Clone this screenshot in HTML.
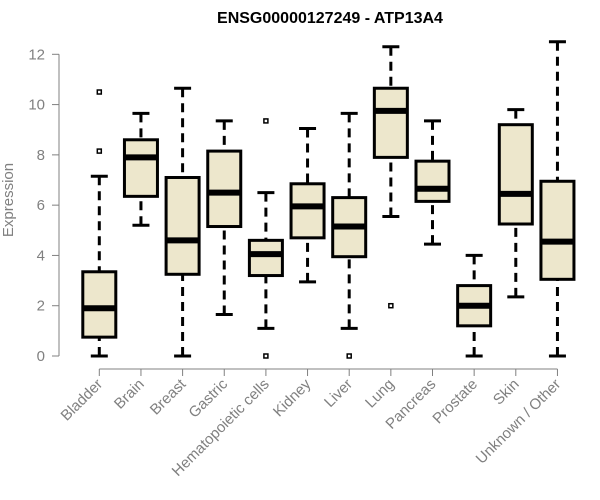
<!DOCTYPE html>
<html><head><meta charset="utf-8"><style>
html,body{margin:0;padding:0;background:#fff;}
svg{display:block;font-family:"Liberation Sans",Arial,sans-serif;}
</style></head><body>
<svg id="chart" width="600" height="500" xmlns="http://www.w3.org/2000/svg">
<text x="330" y="23" text-anchor="middle" font-weight="bold" font-size="16" fill="#000">ENSG00000127249 - ATP13A4</text>
<text transform="translate(13,200) rotate(-90)" text-anchor="middle" font-size="15" fill="#808080">Expression</text>
<g id="yaxis"></g>
<g id="xaxis"></g>
<g id="boxes"></g>
</svg>
<script>
const categories=["Bladder","Brain","Breast","Gastric","Hematopoietic cells","Kidney","Liver","Lung","Pancreas","Prostate","Skin","Unknown / Other"];
const whiskerLow=[0,5.2,0,1.65,1.1,2.95,1.1,5.55,4.45,0,2.35,0];
const q1=[0.75,6.35,3.25,5.15,3.2,4.7,3.95,7.9,6.15,1.2,5.25,3.05];
const medians=[1.9,7.9,4.6,6.5,4.05,5.95,5.15,9.75,6.65,2.0,6.45,4.55];
const q3=[3.35,8.6,7.1,8.15,4.6,6.85,6.3,10.65,7.75,2.8,9.2,6.95];
const whiskerHigh=[7.15,9.65,10.65,9.35,6.5,9.05,9.65,12.3,9.35,4.0,9.8,12.5];
const outliers=[[8.15,10.5],[],[],[],[9.35,0],[],[0],[2.0],[],[],[],[]];
const yTicks=[0,2,4,6,8,10,12];

const NS="http://www.w3.org/2000/svg";
const y=v=>356-v*(356-54.3)/12;
const x=i=>99.3+i*41.65;
function mk(tag,attrs,parent){const e=document.createElementNS(NS,tag);for(const k in attrs)e.setAttribute(k,attrs[k]);parent.appendChild(e);return e;}
const ya=document.getElementById('yaxis'),xa=document.getElementById('xaxis'),bx=document.getElementById('boxes');
mk('line',{x1:59,x2:59,y1:y(0),y2:y(12),stroke:'#808080','stroke-width':1},ya);
yTicks.forEach(t=>{
  const l=mk('line',{x1:52,x2:59,y1:y(t),y2:y(t),stroke:'#808080'},ya);
  
  
  const tx=mk('text',{x:45,y:y(t)+5,'text-anchor':'end','font-size':15,fill:'#808080'},ya);
  tx.textContent=t;
  
  
});
mk('line',{x1:x(0),x2:x(categories.length-1),y1:369,y2:369,stroke:'#808080'},xa);
categories.forEach((c,i)=>{
  const l=mk('line',{x1:x(i),x2:x(i),y1:369,y2:376,stroke:'#808080'},xa);
  
  
  const tx=mk('text',{transform:`translate(${x(i)+4},${385}) rotate(-45)`,'text-anchor':'end','font-size':15,fill:'#808080'},xa);
  tx.textContent=c;
  
  
});
const hw=16.5;
categories.forEach((c,i)=>{
  const g=mk('g',{},bx);
  
  
  const cx=x(i);
  mk('line',{x1:cx,x2:cx,y1:y(whiskerLow[i]),y2:y(q1[i]),stroke:'#000','stroke-width':3,'stroke-dasharray':'9,6'},g);
  mk('line',{x1:cx,x2:cx,y1:y(whiskerHigh[i]),y2:y(q3[i]),stroke:'#000','stroke-width':3,'stroke-dasharray':'9,6'},g);
  mk('line',{x1:cx-8.5,x2:cx+8.5,y1:y(whiskerLow[i]),y2:y(whiskerLow[i]),stroke:'#000','stroke-width':3},g);
  mk('line',{x1:cx-8.5,x2:cx+8.5,y1:y(whiskerHigh[i]),y2:y(whiskerHigh[i]),stroke:'#000','stroke-width':3},g);
  mk('rect',{x:cx-hw,y:y(q3[i]),width:hw*2,height:y(q1[i])-y(q3[i]),fill:'#ede7cc',stroke:'#000','stroke-width':3},g);
  mk('line',{x1:cx-hw,x2:cx+hw,y1:y(medians[i]),y2:y(medians[i]),stroke:'#000','stroke-width':6},g);
  outliers[i].forEach(o=>{
    const r=mk('rect',{x:cx-2,y:y(o)-2,width:4,height:4,fill:'#fff',stroke:'#000','stroke-width':1.5},g);
    
    
  });
});
</script>
</body></html>
